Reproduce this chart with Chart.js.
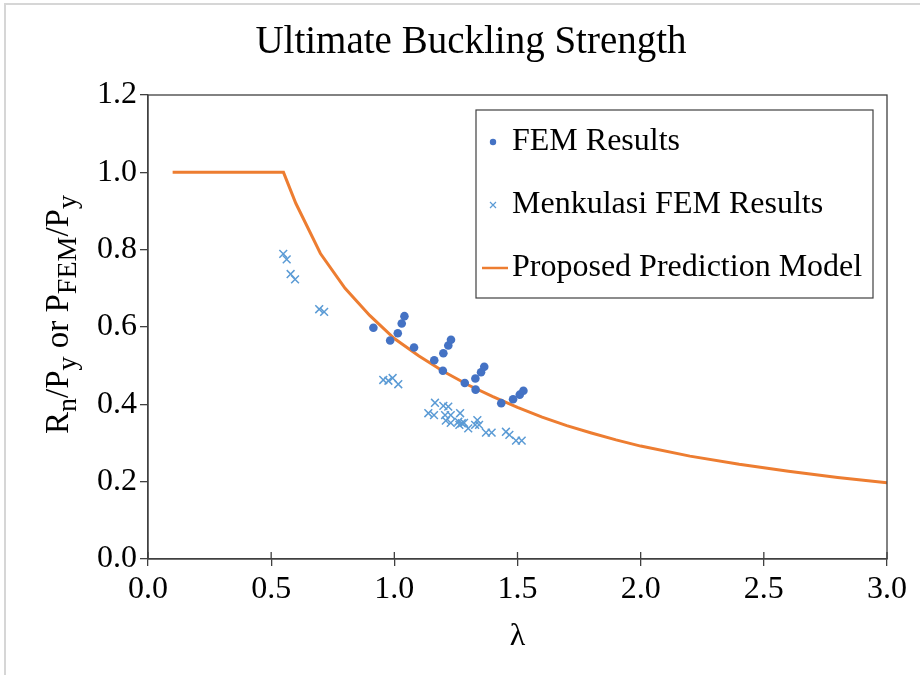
<!DOCTYPE html>
<html>
<head>
<meta charset="utf-8">
<script src="https://cdn.jsdelivr.net/npm/chart.js@4.4.0/dist/chart.umd.min.js"></script>
<style>
  html, body { margin: 0; padding: 0; background: #ffffff; }
  #wrap { position: relative; width: 920px; height: 675px; }
</style>
</head>
<body>
<div id="wrap"><canvas id="c"></canvas></div>
<script>
// ---- Data ----
const femX = [0.915, 0.983, 1.014, 1.030, 1.041, 1.080, 1.162, 1.197, 1.199, 1.219, 1.230, 1.286, 1.330, 1.329, 1.352, 1.365, 1.434, 1.482, 1.509, 1.524];
const femY = [0.598, 0.565, 0.584, 0.609, 0.628, 0.547, 0.514, 0.487, 0.532, 0.552, 0.567, 0.455, 0.438, 0.467, 0.483, 0.497, 0.403, 0.413, 0.425, 0.435];

const menkX = [0.549, 0.563, 0.579, 0.597, 0.695, 0.715, 0.955, 0.976, 0.993, 1.016,
               1.165, 1.138, 1.161, 1.199, 1.219, 1.206, 1.229, 1.267, 1.209, 1.229,
               1.260, 1.274, 1.264, 1.283, 1.300, 1.328, 1.337, 1.344, 1.372, 1.395,
               1.453, 1.467, 1.494, 1.517];
const menkY = [0.789, 0.775, 0.737, 0.723, 0.646, 0.639, 0.463, 0.461, 0.468, 0.452,
               0.404, 0.377, 0.372, 0.396, 0.394, 0.372, 0.372, 0.377, 0.358, 0.352,
               0.355, 0.351, 0.347, 0.352, 0.338, 0.347, 0.359, 0.347, 0.327, 0.327,
               0.329, 0.321, 0.306, 0.306];

const modelX = [0.1, 0.2, 0.3, 0.4, 0.5, 0.55, 0.6, 0.7, 0.8, 0.9, 1.0, 1.1, 1.2, 1.3, 1.4, 1.5, 1.6, 1.7, 1.8, 1.9, 2.0, 2.2, 2.4, 2.6, 2.8, 3.0];
const modelY = [1.0, 1.0, 1.0, 1.0, 1.0, 1.0, 0.92, 0.79, 0.70, 0.63, 0.57, 0.525, 0.485, 0.45, 0.42, 0.392, 0.367, 0.345, 0.326, 0.308, 0.292, 0.266, 0.245, 0.227, 0.211, 0.197];

const seriesLabels = ["FEM Results", "Menkulasi FEM Results", "Proposed Prediction Model"];
const titleText = "Ultimate Buckling Strength";
const xTitle = "λ";

// ---- Build ----
const FONT = "'Liberation Serif', 'Times New Roman', serif";
const AXIS = '#404040';
const pts = (xs, ys) => xs.map((x, i) => ({x: x, y: ys[i]}));

const framePlugin = {
  id: 'frame',
  beforeDraw(chart) {
    const ctx = chart.ctx;
    ctx.save();
    ctx.fillStyle = '#ffffff';
    ctx.fillRect(0, 0, chart.width, chart.height);
    ctx.strokeStyle = '#d6d6d6';
    ctx.lineWidth = 2;
    ctx.beginPath();
    ctx.moveTo(5, chart.height); ctx.lineTo(5, 4); ctx.lineTo(chart.width, 4);
    ctx.stroke();
    ctx.restore();
  },
  afterDraw(chart) {
    const ctx = chart.ctx, a = chart.chartArea;
    ctx.save();
    // plot border
    ctx.strokeStyle = AXIS;
    ctx.lineWidth = 1.3;
    ctx.strokeRect(a.left, a.top, a.right - a.left, a.bottom - a.top);
    // inner half of x ticks (cross ticks)
    const xs = chart.scales.x;
    ctx.beginPath();
    xs.ticks.forEach(t => {
      const px = xs.getPixelForValue(t.value);
      ctx.moveTo(px, a.bottom); ctx.lineTo(px, a.bottom - 7);
    });
    ctx.stroke();

    // chart title
    ctx.fillStyle = '#000000';
    ctx.font = '39px ' + FONT;
    ctx.textAlign = 'center';
    ctx.textBaseline = 'alphabetic';
    ctx.fillText(titleText, 471, 53);

    // y-axis title with subscripts
    const big = 33, small = 28;
    const segs = [
      ['R', big, 0], ['n', small, 1], ['/', big, 0], ['P', big, 0], ['y', small, 1],
      [' or ', big, 0], ['P', big, 0], ['FEM', small, 1], ['/', big, 0], ['P', big, 0], ['y', small, 1]
    ];
    segs.forEach(s => { ctx.font = s[1] + 'px ' + FONT; s.push(ctx.measureText(s[0]).width); });
    ctx.translate(68, 434);
    ctx.rotate(-Math.PI / 2);
    ctx.textAlign = 'left';
    let x = 0;
    segs.forEach(s => {
      ctx.font = s[1] + 'px ' + FONT;
      ctx.fillText(s[0], x, s[2] ? 8 : 0);
      x += s[3];
    });
    ctx.restore();

    // legend box
    ctx.save();
    ctx.strokeStyle = AXIS;
    ctx.lineWidth = 1.2;
    ctx.fillStyle = '#ffffff';
    ctx.fillRect(476, 110, 397, 188);
    ctx.strokeRect(476, 110, 397, 188);
    const rows = [142, 205, 268];
    const ds = chart.data.datasets;
    ctx.font = '32px ' + FONT;
    ctx.textBaseline = 'middle';
    ctx.fillStyle = '#000000';
    rows.forEach((ry, i) => {
      const d = ds[i];
      ctx.save();
      if (i === 0) {
        ctx.fillStyle = d.backgroundColor;
        ctx.beginPath(); ctx.arc(493, ry, 3.2, 0, Math.PI * 2); ctx.fill();
      } else if (i === 1) {
        ctx.strokeStyle = d.borderColor; ctx.lineWidth = 1.2;
        ctx.beginPath();
        ctx.moveTo(490, ry - 3); ctx.lineTo(496, ry + 3);
        ctx.moveTo(496, ry - 3); ctx.lineTo(490, ry + 3);
        ctx.stroke();
      } else {
        ctx.strokeStyle = d.borderColor; ctx.lineWidth = 2.5;
        ctx.beginPath(); ctx.moveTo(482, ry); ctx.lineTo(508, ry); ctx.stroke();
      }
      ctx.restore();
      ctx.fillText(d.label, 512, ry);
    });
    ctx.restore();
  }
};

new Chart(document.getElementById('c'), {
  type: 'scatter',
  data: {
    datasets: [
      { label: seriesLabels[0], data: pts(femX, femY), pointStyle: 'circle', pointRadius: 4.3,
        backgroundColor: '#4472c4', borderColor: '#4472c4', borderWidth: 0 },
      { label: seriesLabels[1], data: pts(menkX, menkY), pointStyle: 'crossRot', pointRadius: 5.5,
        backgroundColor: '#5b9bd5', borderColor: '#5b9bd5', pointBorderWidth: 1.5 },
      { label: seriesLabels[2], data: pts(modelX, modelY), showLine: true, pointRadius: 0,
        borderColor: '#ed7d31', backgroundColor: '#ed7d31', borderWidth: 3, tension: 0 }
    ]
  },
  options: {
    responsive: true,
    maintainAspectRatio: false,
    animation: false,
    events: [],
    layout: { padding: { left: 0, right: 33, top: 95, bottom: 0 } },
    plugins: {
      legend: { display: false },
      tooltip: { enabled: false },
      title: { display: false }
    },
    scales: {
      x: {
        type: 'linear', min: 0, max: 3,
        afterFit(s) { s.height = 116; },
        ticks: { stepSize: 0.5, color: '#000000', padding: 4,
          font: { family: FONT, size: 32 }, callback: v => Number(v).toFixed(1) },
        grid: { drawOnChartArea: false, drawTicks: true, tickLength: 7, color: AXIS, lineWidth: 1.3 },
        border: { display: true, color: AXIS, width: 1.3 },
        title: { display: true, text: xTitle, color: '#000000',
          font: { family: FONT, size: 32, lineHeight: 1.2 }, padding: { top: 0, bottom: 19 } }
      },
      y: {
        type: 'linear', min: 0, max: 1.2,
        afterFit(s) { s.width = 148; },
        ticks: { stepSize: 0.2, color: '#000000', padding: 3,
          font: { family: FONT, size: 32 }, callback: v => Number(v).toFixed(1) },
        grid: { drawOnChartArea: false, drawTicks: true, tickLength: 8, color: AXIS, lineWidth: 1.3 },
        border: { display: true, color: AXIS, width: 1.3 }
      }
    }
  },
  plugins: [framePlugin]
});
</script>
</body>
</html>
